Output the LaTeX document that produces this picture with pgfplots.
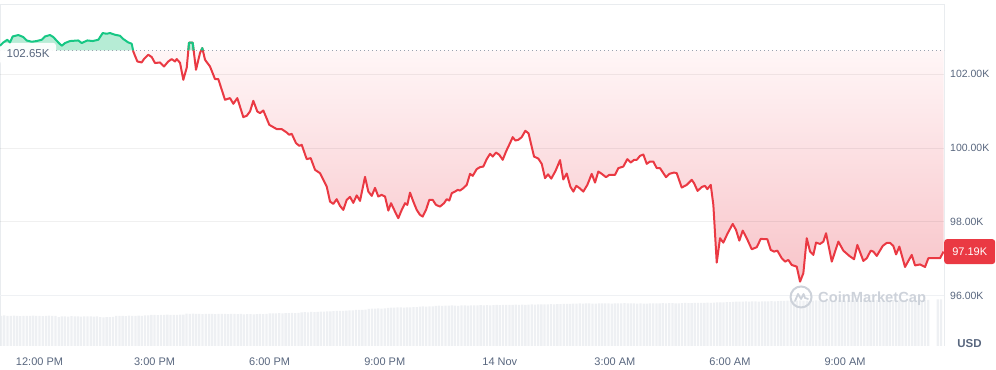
\documentclass[border=0pt]{standalone}
\usepackage{pgfplots}
\pgfplotsset{compat=1.18}
\usepackage{pgfplotstable}
\usepackage{fontspec}
\setmainfont{Liberation Sans}
\definecolor{cmcred}{HTML}{EA3943}
\definecolor{cmcgreen}{HTML}{16C784}
\definecolor{fillgreen}{HTML}{B6ECD5}
\definecolor{labelgray}{HTML}{58667E}
\definecolor{gridgray}{HTML}{EFF1F4}
\definecolor{framegray}{HTML}{E9ECEF}
\definecolor{volgray}{HTML}{EEF0F3}
\definecolor{wmgray}{HTML}{CDD2DA}
\definecolor{dotgray}{HTML}{9AA2AF}
\definecolor{redtop}{HTML}{FFF6F7}
\definecolor{redbot}{HTML}{F8C4C9}

\pgfplotstableread{
t v
2.439 102.650
2.445 102.620
2.550 102.348
2.664 102.321
2.724 102.413
2.837 102.530
2.925 102.468
3.011 102.305
3.142 102.321
3.246 102.212
3.358 102.348
3.447 102.413
3.533 102.348
3.577 102.413
3.663 102.313
3.749 101.851
3.838 102.177
3.898 102.856
3.994 102.856
4.080 102.123
4.184 102.576
4.244 102.712
4.315 102.394
4.445 102.212
4.575 101.870
4.661 101.870
4.836 101.308
4.967 101.354
5.053 101.200
5.157 101.354
5.313 100.838
5.402 100.874
5.488 100.991
5.574 101.281
5.678 100.991
5.749 100.947
5.835 101.018
5.991 100.629
6.184 100.513
6.314 100.513
6.445 100.420
6.512 100.358
6.575 100.385
6.687 100.133
6.773 100.059
6.836 100.086
6.966 99.698
7.070 99.725
7.183 99.408
7.313 99.318
7.399 99.136
7.488 98.954
7.574 98.547
7.660 98.484
7.748 98.612
7.834 98.430
7.920 98.321
8.009 98.593
8.095 98.674
8.181 98.512
8.270 98.715
8.356 98.566
8.486 99.218
8.572 98.818
8.661 98.702
8.747 98.919
8.833 98.683
8.921 98.729
9.008 98.683
9.094 98.302
9.164 98.503
9.268 98.275
9.354 98.096
9.443 98.321
9.529 98.503
9.589 98.457
9.659 98.791
9.745 98.547
9.834 98.321
9.920 98.186
9.990 98.140
10.076 98.321
10.162 98.593
10.251 98.593
10.337 98.457
10.441 98.411
10.546 98.503
10.616 98.612
10.684 98.574
10.747 98.775
10.832 98.818
10.903 98.865
10.963 98.846
11.049 98.911
11.138 99.000
11.224 99.299
11.294 99.245
11.398 99.427
11.484 99.481
11.570 99.497
11.659 99.698
11.745 99.842
11.815 99.769
11.901 99.877
11.987 99.815
12.076 99.679
12.162 99.904
12.266 100.133
12.337 100.295
12.405 100.203
12.483 100.222
12.571 100.295
12.665 100.467
12.749 100.399
12.892 99.769
13.004 99.712
13.093 99.571
13.179 99.182
13.257 99.285
13.341 99.169
13.453 99.380
13.570 99.671
13.656 99.147
13.745 99.310
13.838 98.954
13.917 98.818
13.995 98.973
14.081 98.911
14.177 98.818
14.282 99.000
14.396 99.299
14.482 99.063
14.568 99.361
14.657 99.299
14.769 99.209
14.855 99.272
15.004 99.272
15.090 99.454
15.220 99.497
15.324 99.698
15.413 99.606
15.499 99.679
15.570 99.679
15.656 99.788
15.742 99.823
15.830 99.571
15.916 99.633
16.002 99.633
16.091 99.454
16.177 99.454
16.333 99.209
16.419 99.299
16.542 99.334
16.612 99.318
16.743 98.927
16.873 99.000
17.004 99.136
17.064 99.046
17.155 98.837
17.272 98.946
17.350 98.973
17.410 98.884
17.499 99.000
17.567 98.457
17.655 96.891
17.741 97.553
17.827 97.434
17.932 97.670
18.072 97.941
18.158 97.778
18.244 97.488
18.333 97.759
18.437 97.553
18.568 97.254
18.698 97.309
18.802 97.534
18.974 97.526
19.063 97.235
19.149 97.189
19.235 97.216
19.350 97.010
19.436 96.918
19.522 96.964
19.610 96.828
19.741 96.782
19.827 96.375
19.913 96.603
20.002 97.553
20.088 97.189
20.174 97.100
20.244 97.434
20.349 97.398
20.435 97.461
20.505 97.689
20.654 96.918
20.826 97.461
20.956 97.216
21.112 97.073
21.235 96.983
21.321 97.371
21.477 96.937
21.566 97.010
21.670 97.216
21.738 97.189
21.827 97.073
21.983 97.344
22.087 97.425
22.173 97.425
22.259 97.344
22.330 97.113
22.416 97.325
22.564 96.774
22.739 97.100
22.825 96.815
22.955 96.842
23.086 96.774
23.172 97.010
23.477 97.010
23.568 97.190
}\redtable

\pgfplotstableread{
t v
-1.030 102.774
-0.944 102.864
-0.839 102.937
-0.769 102.864
-0.699 103.027
-0.553 103.065
-0.422 103.011
-0.334 102.918
-0.203 102.883
-0.073 102.902
0.057 102.937
0.143 103.027
0.274 103.065
0.360 103.011
0.490 102.864
0.579 102.774
0.665 102.848
0.795 102.902
1.012 102.918
1.100 102.848
1.246 102.918
1.387 102.902
1.533 102.937
1.648 103.119
1.752 103.100
1.838 103.119
1.968 103.073
2.099 103.046
2.185 102.956
2.315 102.864
2.404 102.829
2.439 102.650
}\greenone

\begin{document}
\begin{tikzpicture}
% volume bars
\begin{axis}[
  at={(0,0)}, anchor=south west,
  scale only axis, width=944bp, height=342bp,
  xmin=-12.36, xmax=282.96, ymin=0, ymax=342,
  hide axis, clip=true]
\addplot[ybar, bar width=2.3bp, fill=volgray, draw=none]
  table[header=false, row sep=\\, x expr=\coordindex-12, y index=0] {
30\\30.5\\30\\30\\30.3\\30\\29.8\\30.2\\30\\30\\30.4\\30\\30.1\\29.9\\30\\30.3\\30\\30.2\\
28.8\\
29.5\\29.6\\29.4\\29.8\\29.5\\29.6\\29.3\\29.5\\29.7\\29.5\\29.4\\29.6\\
28.8\\28.7\\28.9\\28.8\\29\\
30\\30.2\\30\\29.9\\30.3\\30.1\\30\\30.4\\30.2\\30.5\\30.6\\
31\\31.2\\30.9\\31.1\\31\\31.3\\31\\31.2\\31.1\\31.4\\31.3\\
32.4\\32.2\\32.3\\
32\\32.1\\31.9\\32\\32.2\\32\\31.9\\32.1\\32\\32\\31.9\\32.1\\32\\31.8\\32\\
31.7\\31.8\\31.9\\31.7\\31.8\\32\\31.9\\32.1\\
32.5\\32.7\\32.6\\32.8\\32.7\\32.9\\32.8\\33\\32.9\\33.1\\
33.6\\33.8\\33.7\\34\\33.9\\
34.2\\34.4\\34.3\\34.6\\34.5\\34.8\\
35\\35.2\\35.1\\35.3\\35.5\\35.6\\
36\\36.2\\36.1\\36.3\\
37.2\\37.4\\37.3\\37.5\\37.4\\37.6\\
38.2\\38.4\\38.3\\38.5\\38.6\\38.4\\38.7\\38.6\\38.9\\38.8\\
39.3\\39.5\\39.4\\39.6\\39.7\\
40.2\\40.3\\40.1\\40.4\\40.3\\40.5\\40.4\\40.2\\40.6\\40.5\\40.3\\40.6\\40.7\\40.5\\40.8\\40.6\\40.9\\40.7\\40.8\\41\\40.9\\
41\\41.1\\41.2\\41\\41.3\\41.1\\41.4\\41.2\\41.3\\41.5\\41.4\\41.6\\41.5\\41.7\\41.6\\41.8\\41.7\\41.9\\41.8\\42\\42.1\\
42.2\\42.4\\42.3\\42.5\\42.4\\42.6\\42.5\\42.3\\42.4\\42.6\\
42.7\\42.5\\42.6\\42.4\\42.5\\42.7\\42.6\\42.8\\42.7\\42.5\\
42.6\\42.4\\42.5\\42.3\\42.4\\42.6\\42.5\\42.7\\42.6\\42.8\\
42.7\\42.9\\42.8\\42.6\\42.7\\42.9\\43\\42.8\\42.9\\43.1\\
43\\43.2\\43.1\\43.3\\43.2\\43.4\\43.5\\43.6\\43.7\\43.8\\43.9\\
44.2\\44.3\\44.4\\44.3\\44.5\\44.4\\44.6\\44.5\\44.4\\44.6\\44.7\\44.6\\44.8\\44.7\\44.9\\45\\
45.1\\45.3\\45.2\\45.4\\45.3\\45.5\\45.4\\45.3\\45.2\\45.4\\45.5\\45.3\\45.4\\45.6\\45.5\\45.4\\45.3\\45.5\\45.6\\45.4\\45.5\\45.7\\45.6\\45.5\\45.4\\45.6\\45.7\\45.5\\45.6\\45.8\\45.7\\45.6\\45.5\\45.7\\45.8\\45.6\\45.7\\45.9\\45.8\\45.7\\45.6\\45.8\\45.9\\45.7\\45.8\\46\\
0\\0\\
46.5\\46.7\\
};
\end{axis}

% price chart
\begin{axis}[
  at={(0,0)}, anchor=south west,
  scale only axis, width=944bp, height=342bp,
  xmin=-1.0298, xmax=23.58,
  ymin=94.629, ymax=103.907,
  clip=false,
  axis line style={draw=none},
  major tick length=0pt,
  xtick={0,3,6,9,12,15,18,21},
  xticklabels={12:00 PM,3:00 PM,6:00 PM,9:00 PM,14 Nov,3:00 AM,6:00 AM,9:00 AM},
  xticklabel style={anchor=center, yshift=-15.5bp, inner sep=0pt, text=labelgray, font=\fontsize{11bp}{13bp}\selectfont},
  ytick={96,98,100,102},
  yticklabels={96.00K,98.00K,100.00K,102.00K},
  yticklabel pos=right,
  yticklabel style={anchor=west, xshift=6bp, inner sep=0pt, text=labelgray, font=\fontsize{10.5bp}{12bp}\selectfont},
]
% frame
\draw[framegray, line width=0.8bp] (rel axis cs:0,0) -- (rel axis cs:0,1) -- (rel axis cs:1,1) -- (rel axis cs:1,0);

% fills
\addplot[fill=fillgreen, draw=none, forget plot] table[x=t, y=v] {\greenone} -- (axis cs:-1.030,102.65) -- cycle;
\addplot[fill=fillgreen, draw=none, forget plot] coordinates {(3.880,102.65) (3.898,102.856) (3.994,102.856) (4.018,102.65)} -- cycle;
\addplot[fill=fillgreen, draw=none, forget plot] coordinates {(4.217,102.65) (4.244,102.712) (4.258,102.65)} -- cycle;
\addplot[top color=redtop, bottom color=redbot, draw=none, forget plot, restrict y to domain*=90:102.65] table[x=t, y=v] {\redtable} -- (axis cs:23.568,102.65) -- cycle;

% grid lines
\addplot[gridgray, line width=0.8bp, forget plot] coordinates {(-1.0298,96) (23.58,96)};
\addplot[black, opacity=0.06, line width=0.8bp, forget plot] coordinates {(-1.0298,98) (23.58,98)};
\addplot[black, opacity=0.06, line width=0.8bp, forget plot] coordinates {(-1.0298,100) (23.58,100)};
\addplot[black, opacity=0.06, line width=0.8bp, forget plot] coordinates {(-1.0298,102) (23.58,102)};

% baseline
\addplot[dotgray, line width=1bp, dash pattern=on 1bp off 3bp] coordinates {(-1.0298,102.65) (23.58,102.65)};

% open label box
\node[fill=white, fill opacity=0.92, text opacity=1, rounded corners=3bp, anchor=west, inner xsep=6.5bp, inner ysep=0pt, minimum height=22bp, text=labelgray, font=\fontsize{11.5bp}{13bp}\selectfont] at (axis cs:-1.0298,102.557) {102.65K};

% watermark
\draw[wmgray, line width=2bp] (axis cs:19.853,95.959) circle[radius=10.5bp];
\draw[wmgray, line width=1.8bp, line join=round, line cap=round, shift={(axis cs:19.853,95.959)}] (-6bp,-4bp) -- (-3bp,3bp) -- (0bp,-2bp) -- (2.5bp,3bp) -- (4bp,-1bp) -- (7bp,-2bp);
\node[anchor=west, inner sep=0pt, text=wmgray, font=\fontsize{14.7bp}{16bp}\selectfont\bfseries] at (axis cs:20.296,95.919) {CoinMarketCap};

% lines
\addplot[cmcred, line width=2bp, line join=round] table[x=t, y=v] {\redtable};
\addplot[cmcgreen, line width=2bp, line join=round] table[x=t, y=v] {\greenone};
\addplot[cmcgreen, line width=2bp, line join=round] coordinates {(3.880,102.65) (3.898,102.856) (3.994,102.856) (4.018,102.65)};
\addplot[cmcgreen, line width=2bp, line join=round] coordinates {(4.217,102.65) (4.244,102.712) (4.258,102.65)};

% price label
\node[fill=cmcred, text=white, rounded corners=3bp, anchor=west, minimum height=25bp, minimum width=51bp, inner xsep=0pt, font=\fontsize{11bp}{13bp}\selectfont] at (axis cs:23.58,97.19) {97.19K};

% USD
\node[anchor=center, inner sep=0pt, text=labelgray, font=\fontsize{11.5bp}{13bp}\selectfont\bfseries] at ([xshift=25.5bp, yshift=2.7bp]rel axis cs:1,0) {USD};
\end{axis}
\pgfresetboundingbox
\useasboundingbox (0,-24bp) rectangle (996bp,346bp);
\end{tikzpicture}
\end{document}
